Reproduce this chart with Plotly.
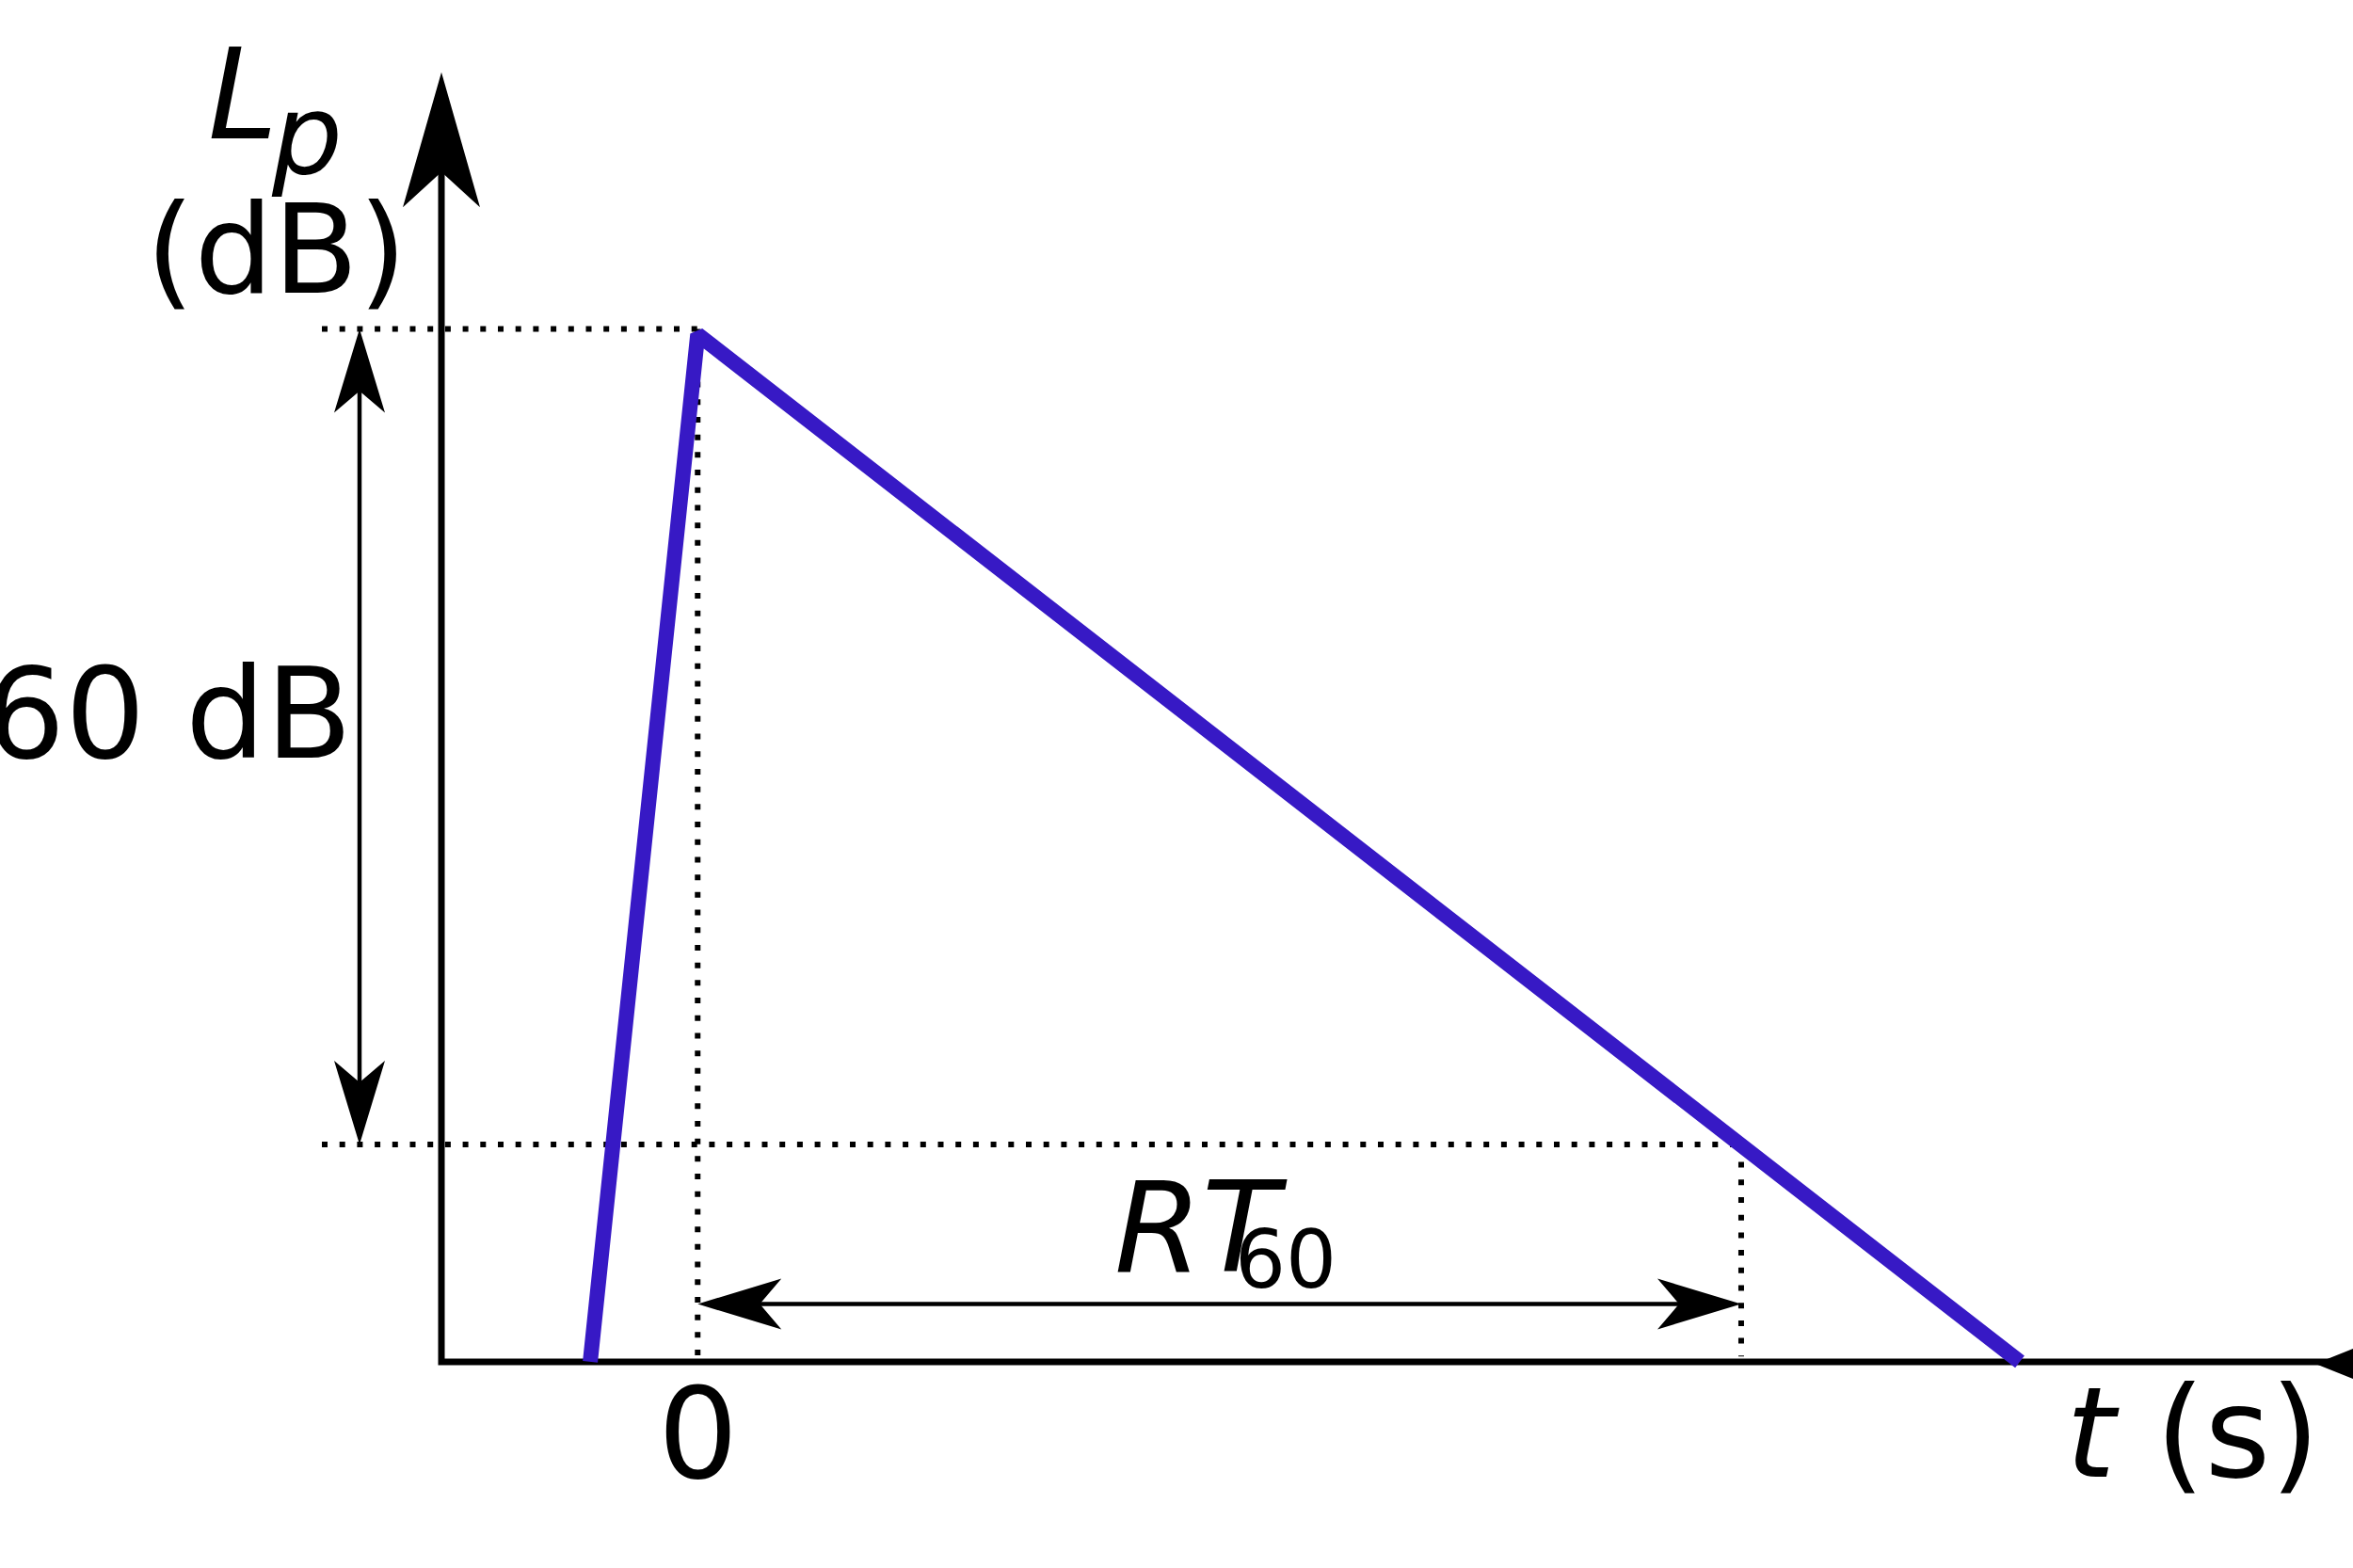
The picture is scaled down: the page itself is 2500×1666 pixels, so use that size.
import plotly.graph_objects as go

# values
t_curve = [-0.103, 0.0, 1.267]    # s : start of the rise, peak, end of the decay
lp_curve = [0.0, 75.6, 0.0]       # dB
lp_peak = 76.0
decay_db = 60.0
rt60 = 1.0
tick_vals = [0.0]
tick_text = ["0"]

# canvas and scales (1 px of the 2500x1666 picture)
W, H = 2500, 1666
x_range = [-0.6686, 1.5863]
y_range = [-15.17, 100.2]
kx = W / (x_range[1] - x_range[0])
ky = H / (y_range[1] - y_range[0])

BLUE = "#3719c5"
FONT = "DejaVu Sans"
DOT = "6px,12.7px"


def to_px(t, lp):
    return (t - x_range[0]) * kx, (y_range[1] - lp) * ky


def from_px(px, py):
    return x_range[0] + px / kx, y_range[1] - py / ky


def arrow_head(t, lp, ux, uy, length, half, notch):
    # ux, uy : direction of the arrow in screen pixels (y down)
    px, py = to_px(t, lp)
    bx, by = px - length * ux, py - length * uy
    nx, ny = -uy, ux
    pts = [(px, py), (bx + half * nx, by + half * ny),
           (px - notch * ux, py - notch * uy),
           (bx - half * nx, by - half * ny), (px, py)]
    pts = [from_px(a, b) for a, b in pts]
    return go.Scatter(x=[p[0] for p in pts], y=[p[1] for p in pts], mode="lines",
                      fill="toself", fillcolor="black", line=dict(width=0),
                      hoverinfo="skip", showlegend=False)


def line(xs, ys, color="black", width=4.5, dash=None):
    return go.Scatter(x=xs, y=ys, mode="lines",
                      line=dict(color=color, width=width, dash=dash),
                      hoverinfo="skip", showlegend=False)


fig = go.Figure()

lp_low = lp_peak - decay_db
dot_start = from_px(342, 0)[0]
axis_t = from_px(469, 0)[0]
arrow_t = from_px(382, 0)[0]
arrow_lp = from_px(0, 1385.5)[1]

# dotted guides
fig.add_trace(line([dot_start, tick_vals[0]], [lp_peak, lp_peak], width=6, dash=DOT))
fig.add_trace(line([dot_start, rt60], [lp_low, lp_low], width=6, dash=DOT))
fig.add_trace(line([0.0, 0.0], [lp_peak, 0.4], width=6, dash=DOT))
fig.add_trace(line([rt60, rt60], [lp_low, 0.4], width=6, dash=DOT))

# axes
top_lp = from_px(0, 76.7)[1]
notch_lp = from_px(0, 76.7 + 100)[1]
right_t = from_px(2560, 0)[0]
fig.add_trace(line([axis_t, axis_t, right_t], [notch_lp, 0.0, 0.0], width=7))
fig.add_trace(arrow_head(axis_t, top_lp, 0, -1, 143.5, 41, 106))
# cut-off head at the right end of the t axis
ax_px, ax_py = to_px(0, 0)
wedge = [from_px(2460, ax_py + 2), from_px(2580, ax_py - 46), from_px(2580, ax_py + 50),
         from_px(2460, ax_py + 2)]
fig.add_trace(go.Scatter(x=[p[0] for p in wedge], y=[p[1] for p in wedge], mode="lines",
                         fill="toself", fillcolor="black", line=dict(width=0),
                         hoverinfo="skip", showlegend=False))

# 60 dB double arrow
off = 60 / ky
fig.add_trace(line([arrow_t, arrow_t], [lp_peak - off, lp_low + off]))
fig.add_trace(arrow_head(arrow_t, lp_peak, 0, -1, 89, 27, 66))
fig.add_trace(arrow_head(arrow_t, lp_low, 0, 1, 89, 27, 66))

# RT60 double arrow
off_t = 60 / kx
fig.add_trace(line([0.0 + off_t, rt60 - off_t], [arrow_lp, arrow_lp]))
fig.add_trace(arrow_head(0.0, arrow_lp, -1, 0, 89, 27, 66))
fig.add_trace(arrow_head(rt60, arrow_lp, 1, 0, 89, 27, 66))

# the level curve
fig.add_trace(line(t_curve, lp_curve, color=BLUE, width=16))


def label(text, x_px, base_px, size, xanchor="center"):
    fig.add_annotation(text=text, xref="paper", yref="paper",
                       x=x_px / W, y=1 - (base_px - 0.346 * size) / H,
                       xanchor=xanchor, yanchor="middle", showarrow=False,
                       font=dict(family=FONT, size=size, color="black"))


label("<i>L</i>", 258, 146.7, 133)
label("<i>p</i>", 326, 185, 118)
label("(dB)", 293, 311, 132)
label("60 dB", 376, 805, 134, xanchor="right")
label("<i>RT</i>", 1276, 1351, 134)
label("60", 1366, 1368, 85)
label("<i>t</i> (s)", 2330, 1569, 134)

for v, s in zip(tick_vals, tick_text):
    fig.add_annotation(text=s, xref="x", yref="paper", x=v,
                       y=1 - (1570 - 0.346 * 134) / H, xanchor="center", yanchor="middle",
                       showarrow=False, font=dict(family=FONT, size=134, color="black"))

fig.update_layout(
    width=W, height=H,
    margin=dict(l=0, r=0, t=0, b=0),
    paper_bgcolor="white", plot_bgcolor="white",
    xaxis=dict(range=x_range, visible=False, fixedrange=True),
    yaxis=dict(range=y_range, visible=False, fixedrange=True),
    font=dict(family=FONT),
)

fig.write_html("out.html", config={"displayModeBar": False},
               post_script="document.body.style.margin='0';")
